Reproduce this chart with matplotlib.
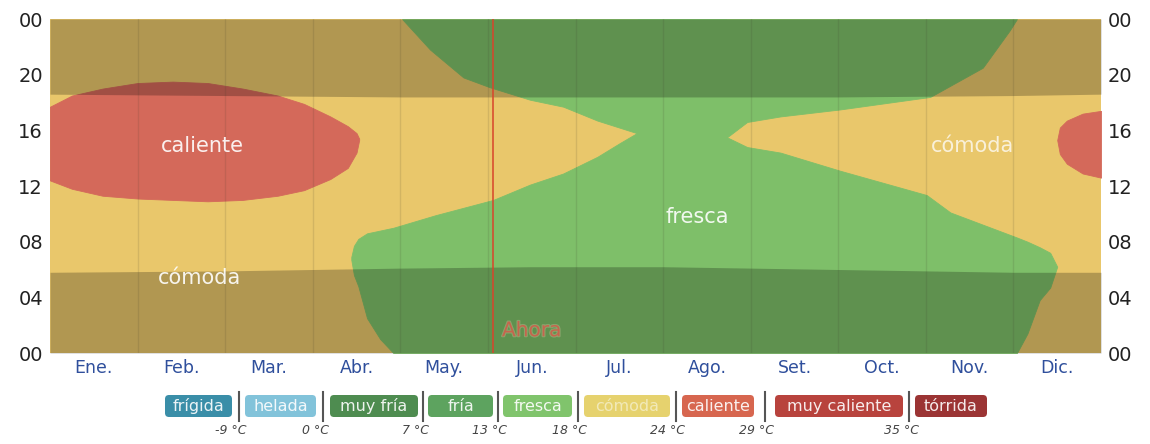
import matplotlib
matplotlib.use("Agg")
import matplotlib.pyplot as plt
import matplotlib.patheffects as pe
from matplotlib.patches import FancyBboxPatch

# x = position in the year in months (0 = 1 Ene., 12 = 31 Dic.), y = hour of day
months = ["Ene.", "Feb.", "Mar.", "Abr.", "May.", "Jun.", "Jul.", "Ago.", "Set.", "Oct.", "Nov.", "Dic."]
hour_ticks = [0, 4, 8, 12, 16, 20, 24]
hour_labels = ["00", "04", "08", "12", "16", "20", "00"]

# caliente: afternoon blob at the start of the year
cal1_x = [0, 0.25, 0.6, 1.0, 1.4, 1.8, 2.2, 2.6, 2.9, 3.2, 3.4, 3.5, 3.53]
cal1_lo = [12.4, 11.8, 11.3, 11.1, 11.0, 10.9, 11.0, 11.3, 11.7, 12.5, 13.3, 14.4, 15.3]
cal1_hi = [17.7, 18.5, 19.0, 19.4, 19.5, 19.4, 19.0, 18.5, 17.9, 17.0, 16.3, 15.8, 15.4]
# caliente: blob at the end of the year
cal2_x = [11.50, 11.53, 11.61, 11.79, 12.0]
cal2_lo = [15.3, 14.3, 13.6, 12.9, 12.6]
cal2_hi = [15.3, 16.2, 16.7, 17.2, 17.4]

# fresca: lower lobe (night/morning), full height in the Jul-Ago neck
fr_low_x = [3.44, 3.47, 3.52, 3.62, 3.77, 3.92, 4.4, 5.06, 5.48, 5.86, 6.25, 6.51, 6.70,
            6.71, 7.72, 7.73, 7.96, 8.34, 9.02, 10.01, 10.28, 11.04, 11.16, 11.30, 11.42, 11.50]
fr_low_bot = [6.7, 5.6, 4.8, 2.5, 1.0, 0, 0, 0, 0, 0, 0, 0, 0,
              0, 0, 0, 0, 0, 0, 0, 0, 0, 1.4, 3.8, 4.7, 6.2]
fr_low_top = [6.9, 7.7, 8.2, 8.6, 8.8, 9.0, 9.9, 11.0, 12.1, 12.9, 14.1, 15.1, 15.8,
              24, 24, 15.5, 14.8, 14.4, 13.1, 11.35, 10.1, 8.3, 8.0, 7.6, 7.2, 6.2]
# fresca: upper lobe (evening), from this boundary up to midnight
fr_up_x = [4.02, 4.34, 4.72, 5.02, 5.48, 5.86, 6.25, 6.70, 7.73, 7.96, 8.34, 9.02, 10.05, 10.65, 10.96, 11.04]
fr_up_bot = [24.0, 21.8, 19.8, 19.1, 18.2, 17.7, 16.7, 15.8, 15.5, 16.6, 17.0, 17.5, 18.4, 20.5, 23.2, 24.0]

# night (before sunrise / after sunset)
sun_x = [0, 2, 4, 5.5, 7, 9, 11, 12]
sunrise = [5.8, 5.9, 6.1, 6.2, 6.2, 6.0, 5.8, 5.8]
sunset = [18.6, 18.5, 18.4, 18.4, 18.4, 18.4, 18.5, 18.6]

now_x = 5.06

# category legend
legend_labels = ["frígida", "helada", "muy fría", "fría", "fresca", "cómoda", "caliente", "muy caliente", "tórrida"]
legend_colors = ["#3a8ea8", "#82c3da", "#4e8c50", "#5da35f", "#80c46c", "#e6d26e", "#d7664f", "#b8433d", "#9b3434"]
legend_temps = ["-9 °C", "0 °C", "7 °C", "13 °C", "18 °C", "24 °C", "29 °C", "35 °C"]

C_COMODA = "#e9c76b"
C_FRESCA = "#7ebf69"
C_CALIENTE = "#d4695a"

fig = plt.figure(figsize=(11.5, 4.44), dpi=100)
ax = fig.add_axes([50 / 1150, 91 / 444, 1051 / 1150, 334 / 444])
ax.set_facecolor(C_COMODA)

ax.fill_between(fr_low_x, fr_low_bot, fr_low_top, color=C_FRESCA, lw=0.6, ec=C_FRESCA)
ax.fill_between(fr_up_x, fr_up_bot, 24, color=C_FRESCA, lw=0.6, ec=C_FRESCA)
ax.fill_between(cal1_x, cal1_lo, cal1_hi, color=C_CALIENTE, lw=0.6, ec=C_CALIENTE)
ax.fill_between(cal2_x, cal2_lo, cal2_hi, color=C_CALIENTE, lw=0.6, ec=C_CALIENTE)

for m in range(1, 12):
    ax.axvline(m, color="#3a3a2a", alpha=0.13, lw=1)

ax.fill_between(sun_x, 0, sunrise, color="black", alpha=0.24, lw=0)
ax.fill_between(sun_x, sunset, 24, color="black", alpha=0.24, lw=0)

ax.axvline(now_x, color="#d8452b", lw=1.3, alpha=0.85)
ax.text(now_x + 0.1, 1.6, "Ahora", color="#c9604a", alpha=0.9, fontsize=14.5, va="center",
        path_effects=[pe.withStroke(linewidth=1.5, foreground="#d9c9a0", alpha=0.35)])

lbl = dict(color="white", fontsize=15, ha="center", va="center", alpha=0.9)
ax.text(1.74, 14.9, "caliente", **lbl)
ax.text(1.71, 5.4, "cómoda", **lbl)
ax.text(7.39, 9.8, "fresca", **lbl)
ax.text(10.53, 14.9, "cómoda", color="white", fontsize=15, ha="center", va="center", alpha=0.75)

ax.set_xlim(0, 12)
ax.set_ylim(0, 24)
ax.set_xticks([i + 0.5 for i in range(12)])
ax.set_xticklabels(months, color="#2f4f9c", fontsize=12.5)
ax.set_yticks(hour_ticks)
ax.set_yticklabels(hour_labels, fontsize=14, color="#222222")
ax.tick_params(length=0, labelright=True, pad=5)
ax.tick_params(axis="x", pad=4)
for s in ax.spines.values():
    s.set_visible(False)

# legend row under the chart (pixel layout)
lg = fig.add_axes([0, 0, 1, 1])
lg.set_xlim(0, 1150)
lg.set_ylim(444, 0)
lg.axis("off")
box_left = [165, 245, 330, 428, 503, 584, 682, 775, 915]
box_right = [232, 316, 418, 493, 572, 670, 754, 903, 987]
for i, name in enumerate(legend_labels):
    w = box_right[i] - box_left[i]
    lg.add_patch(FancyBboxPatch((box_left[i], 395), w, 22, boxstyle="round,pad=0,rounding_size=4",
                                fc=legend_colors[i], ec="none"))
    tc = "#f3ecc0" if name == "cómoda" else "white"
    lg.text(box_left[i] + w / 2, 406, name, color=tc, alpha=0.9, fontsize=11.5, ha="center", va="center")
for i, t in enumerate(legend_temps):
    sx = (box_right[i] + box_left[i + 1]) / 2
    lg.plot([sx, sx], [392, 421], color="#555555", lw=1.5)
    lg.text(sx - 8, 430, t, fontsize=9, style="italic", color="#444444", ha="center", va="center")

fig.savefig("out.png", dpi=100)
